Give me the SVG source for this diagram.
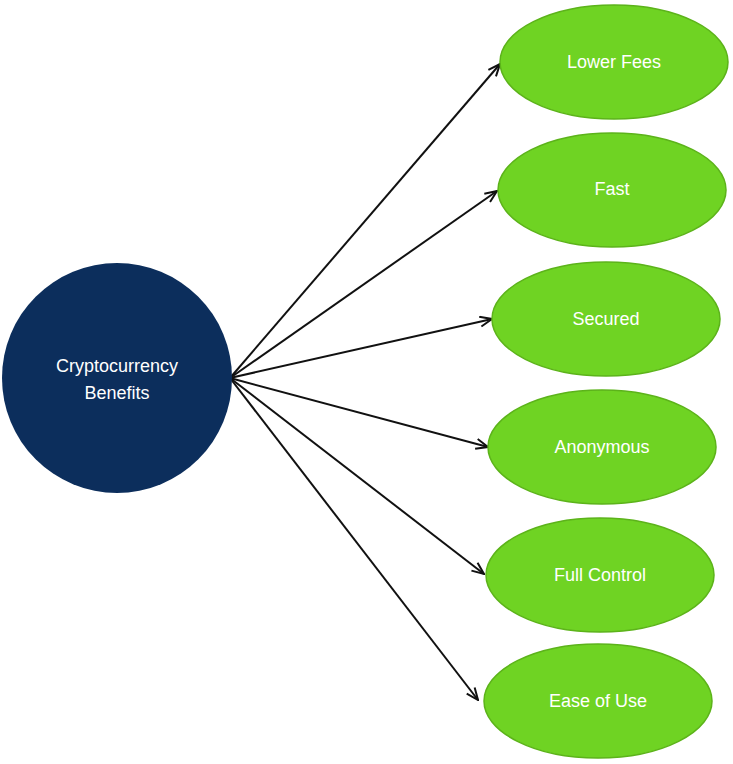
<svg xmlns="http://www.w3.org/2000/svg" width="733" height="764" viewBox="0 0 733 764">
<style>
.g{fill:#6fd323;stroke:#5cb31a;stroke-width:1.5}
.t{font-family:"Liberation Sans",Arial,sans-serif;font-size:18px;fill:#fff;text-anchor:middle;dominant-baseline:central}
.c line{stroke:#111;stroke-width:2;marker-end:url(#a)}
</style>
<defs><marker id="a" markerWidth="14" markerHeight="12" refX="13" refY="6" orient="auto" markerUnits="userSpaceOnUse"><path d="M1,1 L13,6 L1,11" fill="none" stroke="#111" stroke-width="2"/></marker></defs>
<rect width="733" height="764" fill="#fff"/>
<g class="c">
<line x1="230" y1="378" x2="500" y2="64"/>
<line x1="230" y1="378" x2="497" y2="191"/>
<line x1="230" y1="378" x2="492" y2="319"/>
<line x1="230" y1="378" x2="488" y2="447"/>
<line x1="230" y1="378" x2="484" y2="574"/>
<line x1="230" y1="378" x2="478" y2="700"/>
</g>
<g id="center"><circle cx="117" cy="378" r="115" fill="#0c2e5c"/><text class="t" x="117" y="366">Cryptocurrency</text><text class="t" x="117" y="393">Benefits</text></g>
<g id="n1"><ellipse class="g" cx="614" cy="62" rx="114" ry="57"/><text class="t" x="614" y="62">Lower Fees</text></g>
<g id="n2"><ellipse class="g" cx="612" cy="190" rx="114" ry="57"/><text class="t" x="612" y="189">Fast</text></g>
<g id="n3"><ellipse class="g" cx="606" cy="319" rx="114" ry="57"/><text class="t" x="606" y="319">Secured</text></g>
<g id="n4"><ellipse class="g" cx="602" cy="447" rx="114" ry="57"/><text class="t" x="602" y="447">Anonymous</text></g>
<g id="n5"><ellipse class="g" cx="600" cy="575" rx="114" ry="57"/><text class="t" x="600" y="575">Full Control</text></g>
<g id="n6"><ellipse class="g" cx="598" cy="701" rx="114" ry="57"/><text class="t" x="598" y="701">Ease of Use</text></g>
</svg>
